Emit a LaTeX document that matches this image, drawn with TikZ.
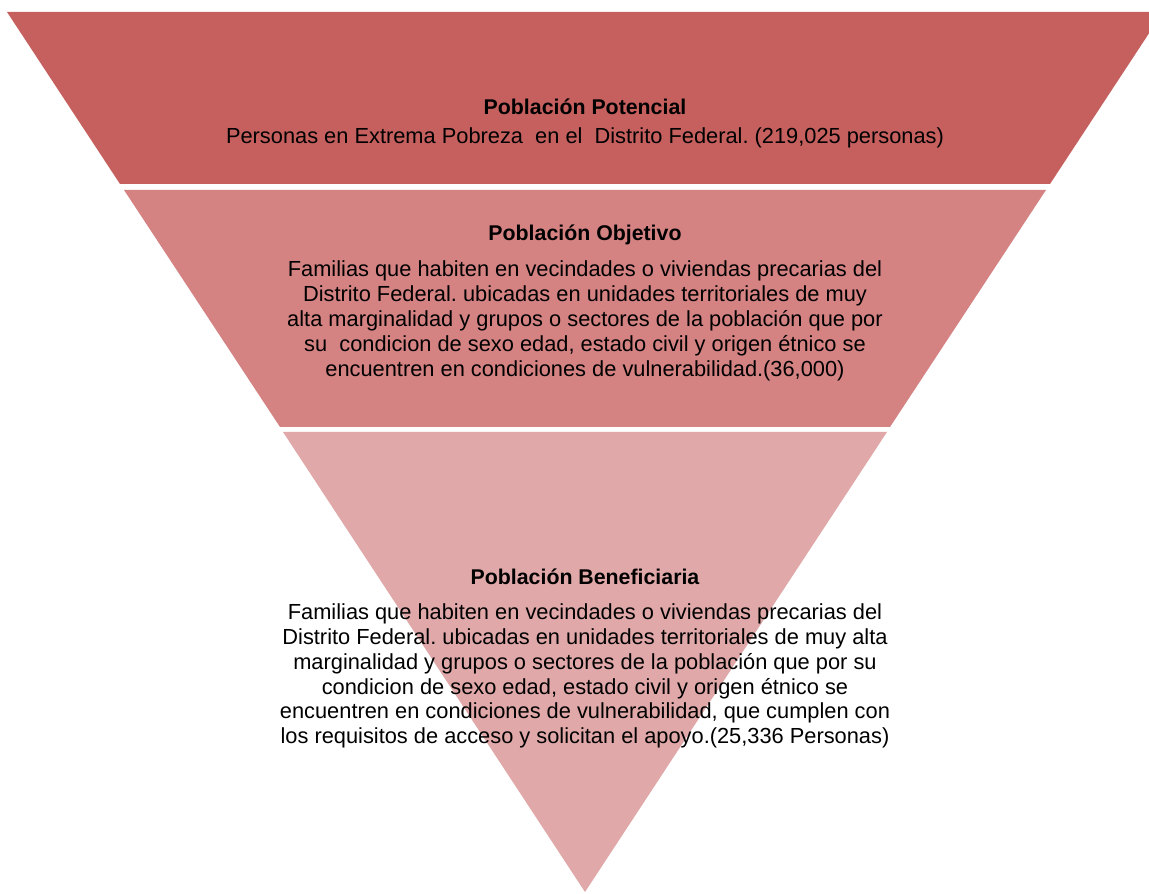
\documentclass[tikz,border=0pt]{standalone}
\usepackage{fontspec}
\setmainfont{Liberation Sans}
\usepackage{tikz}
\usetikzlibrary{positioning}
\frenchspacing

\definecolor{potencial}{RGB}{197,96,94}
\definecolor{objetivo}{RGB}{212,130,130}
\definecolor{beneficiaria}{RGB}{224,168,168}

\tikzset{
  bandtitle/.style={font=\fontsize{21.4}{25}\selectfont\bfseries,inner sep=0pt},
  bandtext/.style={font=\fontsize{21.9}{25}\selectfont,align=center,inner sep=0pt},
}

\begin{document}
\begin{tikzpicture}[line join=bevel,]
%%
\clip (0bp,0bp) rectangle (1149bp,894bp);
\fill [potencial] (7bp,882bp) -- (1163bp,882bp) -- (1050bp,710bp) -- (120bp,710bp) -- cycle;
  \fill [objetivo] (124bp,704bp) -- (1046bp,704bp) -- (890bp,467bp) -- (280bp,467bp) -- cycle;
  \fill [beneficiaria] (283bp,462bp) -- (887bp,462bp) -- (585bp,2bp) -- cycle;
  \node (potencial) at (585bp,787bp) [bandtitle] {Población Potencial};
  \node (potencialtxt) at (585bp,756bp) [bandtext] {Personas en Extrema Pobreza\ \ en el\ \ Distrito Federal. (219,025 personas)};
  \node (objetivo) at (585bp,659bp) [bandtitle] {Población Objetivo};
  \node (objetivotxt) at (585bp,573bp) [bandtext] {Familias que habiten en vecindades o viviendas precarias del\\Distrito Federal. ubicadas en unidades territoriales de muy\\alta marginalidad y grupos o sectores de la población que por\\su\ \ condicion de sexo edad, estado civil y origen étnico se\\encuentren en condiciones de vulnerabilidad.(36,000)};
  \node (beneficiaria) at (585bp,317bp) [bandtitle] {Población Beneficiaria};
  \node (beneficiariatxt) at (585bp,218bp) [bandtext] {Familias que habiten en vecindades o viviendas precarias del\\Distrito Federal. ubicadas en unidades territoriales de muy alta\\marginalidad y grupos o sectores de la población que por su\\condicion de sexo edad, estado civil y origen étnico se\\encuentren en condiciones de vulnerabilidad, que cumplen con\\los requisitos de acceso y solicitan el apoyo.(25,336 Personas)};
%
\end{tikzpicture}
\end{document}
